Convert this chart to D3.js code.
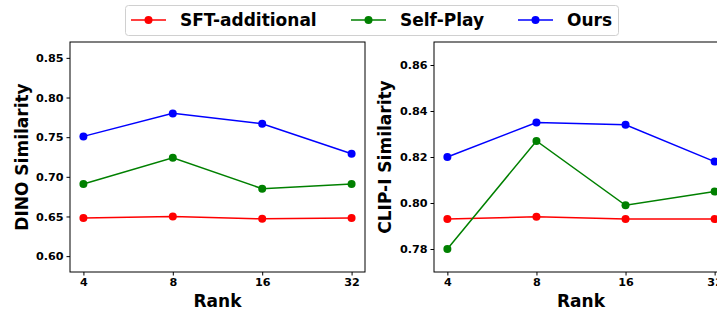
<!DOCTYPE html>
<html>
<head>
<meta charset="utf-8">
<script src="https://cdn.jsdelivr.net/npm/d3@7"></script>
<style>
  body { margin: 0; background: #fff; }
  text { font-family: "DejaVu Sans", sans-serif; font-weight: bold; }
</style>
</head>
<body>
<svg id="chart" width="717" height="311"></svg>
<script>
var ranks = ['4', '8', '16', '32'];
var seriesNames = ['SFT-additional', 'Self-Play', 'Ours'];
var seriesColors = ['#ff0000', '#008000', '#0000ff'];

// DINO
var dinoSft = [0.648, 0.650, 0.647, 0.648];
var dinoSelf = [0.691, 0.724, 0.685, 0.691];
var dinoOurs = [0.751, 0.780, 0.767, 0.729];
var dinoTicks = [0.60, 0.65, 0.70, 0.75, 0.80, 0.85];

// CLIP-I
var clipSft = [0.793, 0.794, 0.793, 0.793];
var clipSelf = [0.780, 0.827, 0.799, 0.805];
var clipOurs = [0.820, 0.835, 0.834, 0.818];
var clipTicks = [0.78, 0.80, 0.82, 0.84, 0.86];

var svg = d3.select('#chart');

function drawPanel(opts) {
  var x = d3.scalePoint()
    .domain(ranks)
    .range([opts.left, opts.right])
    .padding(0.15);

  var y = d3.scaleLinear()
    .domain(opts.yDomain)
    .range([opts.bottom, opts.top]);

  var g = svg.append('g');

  // x axis
  var xAxis = g.append('g')
    .attr('transform', 'translate(0,' + opts.bottom + ')')
    .call(d3.axisBottom(x).tickSize(3.5).tickPadding(3));
  xAxis.select('.domain').remove();
  xAxis.selectAll('text').style('font-size', '11.2px').attr('fill', '#000');

  // y axis
  var yAxis = g.append('g')
    .attr('transform', 'translate(' + opts.left + ',0)')
    .call(d3.axisLeft(y).tickValues(opts.ticks).tickFormat(d3.format('.2f')).tickSize(3.5).tickPadding(3));
  yAxis.select('.domain').remove();
  yAxis.selectAll('text').style('font-size', '11.2px').attr('fill', '#000');

  // frame
  g.append('rect')
    .attr('x', opts.left)
    .attr('y', opts.top)
    .attr('width', opts.right - opts.left)
    .attr('height', opts.bottom - opts.top)
    .attr('fill', 'none')
    .attr('stroke', '#000')
    .attr('stroke-width', 1);

  var line = d3.line()
    .x(function(d, i) { return x(ranks[i]); })
    .y(function(d) { return y(d); });

  opts.series.forEach(function(vals, s) {
    g.append('path')
      .datum(vals)
      .attr('d', line)
      .attr('fill', 'none')
      .attr('stroke', seriesColors[s])
      .attr('stroke-width', 1.5);

    g.selectAll('.pt' + s)
      .data(vals)
      .enter()
      .append('circle')
      .attr('cx', function(d, i) { return x(ranks[i]); })
      .attr('cy', function(d) { return y(d); })
      .attr('r', 4)
      .attr('fill', seriesColors[s]);
  });

  // labels
  g.append('text')
    .attr('x', (opts.left + opts.right) / 2)
    .attr('y', 307)
    .attr('text-anchor', 'middle')
    .style('font-size', '17px')
    .text('Rank');

  g.append('text')
    .attr('transform', 'translate(' + opts.labelX + ',' + ((opts.top + opts.bottom) / 2) + ') rotate(-90)')
    .attr('text-anchor', 'middle')
    .style('font-size', '17px')
    .text(opts.yLabel);
}

drawPanel({
  left: 70, right: 365, top: 42, bottom: 272,
  yDomain: [0.58, 0.87],
  ticks: dinoTicks,
  series: [dinoSft, dinoSelf, dinoOurs],
  yLabel: 'DINO Similarity',
  labelX: 28
});

drawPanel({
  left: 434, right: 728, top: 42, bottom: 272,
  yDomain: [0.77, 0.87],
  ticks: clipTicks,
  series: [clipSft, clipSelf, clipOurs],
  yLabel: 'CLIP-I Similarity',
  labelX: 391
});

// legend
var legend = svg.append('g');
legend.append('rect')
  .attr('x', 125.5)
  .attr('y', 5.5)
  .attr('width', 493)
  .attr('height', 30)
  .attr('rx', 3)
  .attr('fill', '#fff')
  .attr('stroke', '#d0d0d0');

var legendX = [131, 351, 518];
seriesNames.forEach(function(name, i) {
  var lg = legend.append('g').attr('transform', 'translate(' + legendX[i] + ',20)');
  lg.append('line')
    .attr('x1', 0).attr('x2', 35)
    .attr('y1', 0).attr('y2', 0)
    .attr('stroke', seriesColors[i])
    .attr('stroke-width', 1.5);
  lg.append('circle')
    .attr('cx', 17.5).attr('cy', 0).attr('r', 4)
    .attr('fill', seriesColors[i]);
  lg.append('text')
    .attr('x', 49)
    .attr('y', 6)
    .style('font-size', '17px')
    .text(name);
});
</script>
</body>
</html>
